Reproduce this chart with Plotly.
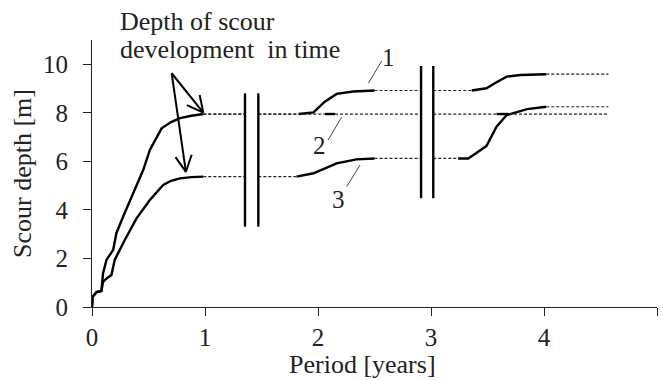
import math
import plotly.graph_objects as go

# ---- data -------------------------------------------------------------
# first period: common start, upper curve (1 and 2) and lower curve (3)
p1_upper_t = [0, 0.005, 0.04, 0.083, 0.098, 0.128, 0.187, 0.216, 0.275, 0.364,
              0.453, 0.512, 0.616, 0.70, 0.778, 0.88, 0.985]
p1_upper_d = [0, 0.42, 0.61, 0.66, 1.39, 1.94, 2.35, 3.04, 3.72, 4.68,
              5.64, 6.47, 7.36, 7.62, 7.78, 7.88, 7.95]
p1_lower_t = [0, 0.005, 0.04, 0.083, 0.098, 0.13, 0.172, 0.201, 0.29, 0.394,
              0.512, 0.63, 0.70, 0.778, 0.88, 0.985]
p1_lower_d = [0, 0.42, 0.61, 0.66, 1.04, 1.18, 1.32, 1.94, 2.76, 3.65,
              4.41, 5.03, 5.20, 5.30, 5.35, 5.37]

# second period
c1_p2_t = [1.83, 1.96, 2.06, 2.165, 2.31, 2.50]
c1_p2_d = [7.95, 8.02, 8.46, 8.78, 8.88, 8.92]
c2_p2_t = [2.06, 2.15]
c2_p2_d = [7.95, 7.95]
c3_p2_t = [1.81, 1.96, 2.165, 2.34, 2.50]
c3_p2_d = [5.37, 5.51, 5.92, 6.08, 6.12]

# third period
c1_p3_t = [3.36, 3.49, 3.58, 3.67, 3.79, 4.02]
c1_p3_d = [8.92, 9.01, 9.26, 9.49, 9.56, 9.59]
c2_p3_t = [3.58, 3.69]
c2_p3_d = [7.95, 7.95]
c3_p3_t = [3.24, 3.33, 3.49, 3.54, 3.58, 3.67, 3.85, 4.02]
c3_p3_d = [6.12, 6.12, 6.63, 7.09, 7.43, 7.91, 8.15, 8.25]

# time-axis breaks (pairs of vertical bars) and their vertical extent
break_t = [(1.354, 1.472), (2.912, 3.020)]
break_d = [(3.31, 8.80), (4.48, 9.93)]
t_horizon = 4.57

x_ticks = [0, 1, 2, 3, 4, 5]
y_ticks = [0, 2, 4, 6, 8, 10]

# note arrows: common tail and the two tips
arrow_tail = (0.705, 9.63)
arrow_tips = [(0.985, 8.01), (0.831, 5.57)]

series = {
    "1": [(p1_upper_t, p1_upper_d), (c1_p2_t, c1_p2_d), (c1_p3_t, c1_p3_d)],
    "2": [(p1_upper_t, p1_upper_d), (c2_p2_t, c2_p2_d), (c2_p3_t, c2_p3_d)],
    "3": [(p1_lower_t, p1_lower_d), (c3_p2_t, c3_p2_d), (c3_p3_t, c3_p3_d)],
}

FONT = "Liberation Serif, Times New Roman, serif"
INK = "#222222"
X_RANGE = (0, 5)
Y_RANGE = (0, 11)
W, H = 663, 380
M = dict(l=92, r=6, t=40, b=73)
PX_X = (W - M["l"] - M["r"]) / (X_RANGE[1] - X_RANGE[0])
PX_Y = (H - M["t"] - M["b"]) / (Y_RANGE[1] - Y_RANGE[0])

fig = go.Figure()


def line(xs, ys, width=2.4, color="black", dash=None):
    fig.add_trace(go.Scatter(x=xs, y=ys, mode="lines",
                             line=dict(color=color, width=width, dash=dash),
                             hoverinfo="skip", showlegend=False))


# solid scour development curves
drawn = set()
for name, segs in series.items():
    for t, d in segs:
        key = (tuple(t), tuple(d))
        if key not in drawn:
            drawn.add(key)
            line(t, d)


def dashed_span(t0, t1, level):
    """Dashed continuation of a level, interrupted by the axis breaks."""
    pieces = []
    start = t0
    for b0, b1 in break_t:
        if b0 < start < b1:
            start = b1
        if start < b0 < t1:
            pieces.append((start, b0))
            start = b1
    if start < t1:
        pieces.append((start, t1))
    for a, b in pieces:
        line([a, b], [level, level], width=1.2, color=INK, dash="3px,2px")


for name, segs in series.items():
    for i, (t, d) in enumerate(segs):
        nxt = segs[i + 1][0][0] if i + 1 < len(segs) else t_horizon
        dashed_span(t[-1], nxt, d[-1])

# break markers
for (b0, b1), (lo, hi) in zip(break_t, break_d):
    for bx in (b0, b1):
        line([bx, bx], [lo, hi])

# curve numbers with leader lines
labels = [
    ("1", (2.446, 9.22), (2.564, 10.14), (2.62, 10.28)),
    ("2", (2.209, 7.82), (2.090, 6.88), (2.009, 6.67)),
    ("3", (2.372, 5.85), (2.254, 4.96), (2.18, 4.41)),
]
for txt, p0, p1, pt in labels:
    line([p0[0], p1[0]], [p0[1], p1[1]], width=1, color="#444444")
    fig.add_annotation(x=pt[0], y=pt[1], text=txt, showarrow=False,
                       font=dict(family=FONT, size=25, color=INK))

# descriptive note
fig.add_annotation(x=0.23, xref="x", y=1.071, yref="paper", text="Depth of scour",
                   showarrow=False, xanchor="left", yanchor="middle",
                   font=dict(family=FONT, size=26, color=INK))
fig.add_annotation(x=0.23, xref="x", y=0.966, yref="paper",
                   text="development  in time", showarrow=False,
                   xanchor="left", yanchor="middle",
                   font=dict(family=FONT, size=26, color=INK))

# open-headed arrows, head arms built in screen space
HEAD_LEN, HEAD_ANG = 18, math.radians(27)
for tip in arrow_tips:
    dx = (arrow_tail[0] - tip[0]) * PX_X
    dy = (arrow_tail[1] - tip[1]) * PX_Y
    n = math.hypot(dx, dy)
    ux, uy = dx / n, dy / n
    arms = []
    for s in (-1, 1):
        c, si = math.cos(s * HEAD_ANG), math.sin(s * HEAD_ANG)
        ax = ux * c - uy * si
        ay = ux * si + uy * c
        arms.append((tip[0] + ax * HEAD_LEN / PX_X, tip[1] + ay * HEAD_LEN / PX_Y))
    line([arrow_tail[0], tip[0]], [arrow_tail[1], tip[1]], width=2)
    line([arms[0][0], tip[0], arms[1][0]], [arms[0][1], tip[1], arms[1][1]], width=2)

# axis titles
fig.add_annotation(x=0.4796, xref="paper", y=-0.2135, yref="paper",
                   text="Period [years]", showarrow=False,
                   xanchor="center", yanchor="middle",
                   font=dict(family=FONT, size=26, color=INK))
fig.add_annotation(x=-0.123, xref="paper", y=0.5, yref="paper",
                   text="Scour depth [m]", showarrow=False, textangle=-90,
                   xanchor="center", yanchor="middle",
                   font=dict(family=FONT, size=26, color=INK))

axis_common = dict(showline=True, linecolor=INK, linewidth=1,
                   ticks="outside", ticklen=8, tickcolor=INK,
                   showgrid=False, zeroline=False,
                   tickfont=dict(family=FONT, size=25, color=INK))
fig.update_xaxes(range=list(X_RANGE), tickvals=x_ticks, **axis_common)
fig.update_yaxes(range=list(Y_RANGE), tickvals=y_ticks, ticklabelstandoff=10,
                 **axis_common)

fig.update_layout(width=W, height=H, margin=M,
                  plot_bgcolor="white", paper_bgcolor="white")

fig.write_html("out.html")
